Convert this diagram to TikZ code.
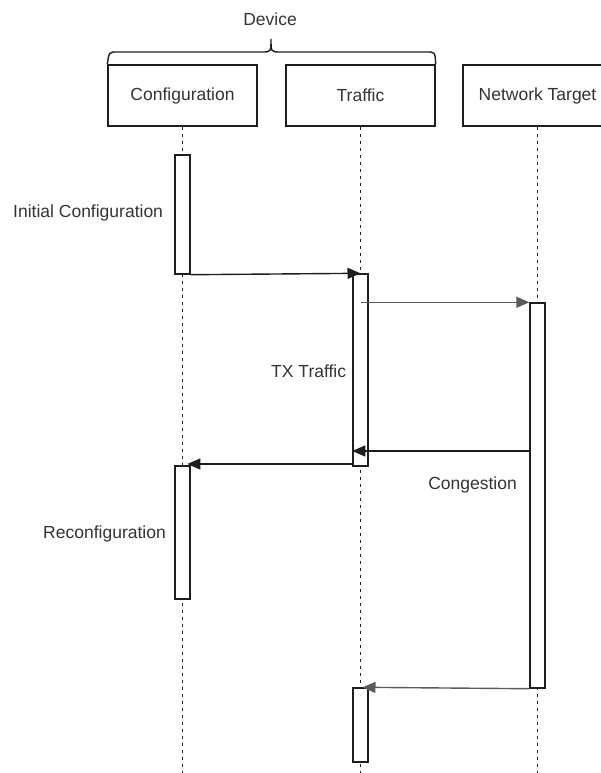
\documentclass[tikz,border=0pt]{standalone}
\usepackage{fontspec}
\setmainfont{Liberation Sans}
\usetikzlibrary{arrows.meta,calc}
\definecolor{ink}{HTML}{1E1E1E}
\definecolor{txt}{HTML}{333333}
\definecolor{soft}{HTML}{5A5A5A}
\begin{document}
\begin{tikzpicture}[x=1pt,y=-1pt,
  font=\fontsize{17.5}{21}\selectfont,
  every node/.style={text=txt},
  head/.style={draw=ink, line width=1.4pt, fill=white, minimum width=149pt,
               minimum height=61pt, inner sep=0pt},
  act/.style={draw=ink, line width=1.4pt, fill=white, minimum width=15pt, inner sep=0pt},
  life/.style={draw=ink, line width=1.4pt, dash pattern=on 3.5pt off 3.5pt},
  msg/.style={draw=ink, line width=1.4pt, -{Triangle[length=13pt,width=11pt]}},
  msgsoft/.style={msg, draw=soft},
  lbl/.style={inner sep=0pt}]
\useasboundingbox (0,0) rectangle (601,773);

% lifeline heads
\node[head] (hc) at (182.5,95.5) {Configuration};
\node[head] (ht) at (360.5,95.5) {Traffic};
\node[head] (hn) at (537.5,95.5) {Network Target};

% lifelines
\coordinate (bot) at (0,775);
\draw[life] (hc.south) -- (hc.south |- bot);
\draw[life] (ht.south) -- (ht.south |- bot);
\draw[life] (hn.south) -- (hn.south |- bot);

% brace grouping the device lifelines
\draw[ink, line width=1.4pt] (hc.north west) .. controls (109,52) .. (117,52) -- (262,52)
  .. controls (271,52) .. (271,39) .. controls (271,52) .. (280,52) -- (427,52)
  .. controls (435,52) .. (ht.north east);
\node[lbl] (dev) at (270,19) {Device};

% activation bars
\node[act, minimum height=119pt] (a1) at (182.5,214.5) {};
\node[act, minimum height=192pt] (t1) at (360.5,370) {};
\node[act, minimum height=385pt] (n1) at (537.5,495.5) {};
\node[act, minimum height=133pt] (a2) at (182.5,532.5) {};
\node[act, minimum height=74pt]  (t2) at (360.5,725) {};

% activation labels
\begin{scope}
  \clip (0,190) rectangle (162,240);
  \node[lbl, anchor=west] (linit) at (13,213) {Initial Configuration};
\end{scope}
\node[lbl, anchor=east] (ltx) at ($(t1.west)+(-6,1)$) {TX Traffic};
\node[lbl, anchor=east] (lcong) at (517,485) {Congestion};
\node[lbl, anchor=east] (lrec) at (166,534) {Reconfiguration};

% messages
\coordinate (y3) at (0,451);
\coordinate (y4) at (0,464);
\coordinate (a2r) at ($(a2.north)!0.6!(a2.north east)$);
\draw[msg] (a1.south east) -- (t1.north);
\draw[msgsoft] (t1.center |- n1.north west) -- (n1.north west);
\draw[msg] (n1.west |- y3) -- (t1.west |- y3);
\draw[msg] (t1.west |- y4) -- (a2r |- y4);
\draw[msgsoft] (n1.south west) -- ($(t2.north)+(2,0)$);
\end{tikzpicture}
\end{document}
